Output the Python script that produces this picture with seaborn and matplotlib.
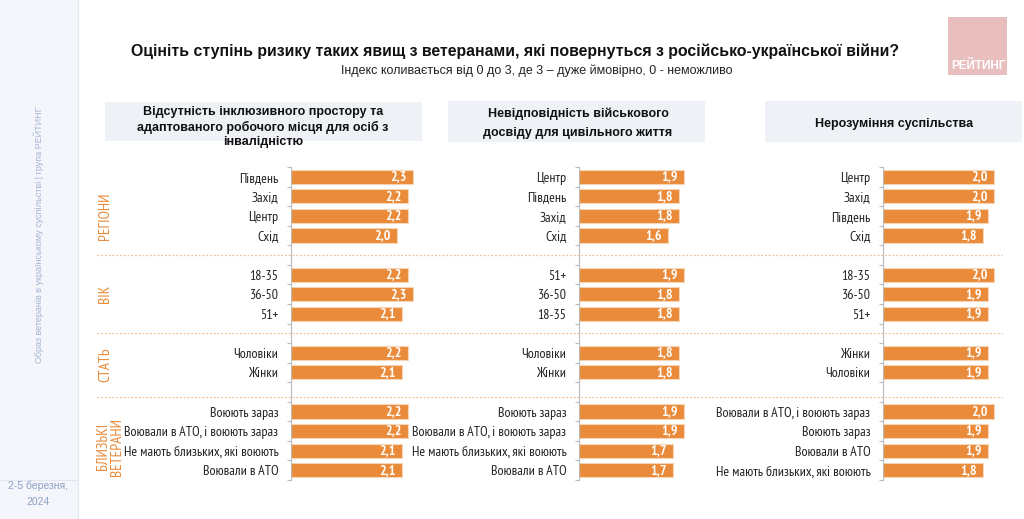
import numpy as np
import pandas as pd
import matplotlib
matplotlib.use("Agg")
import matplotlib.pyplot as plt
import matplotlib.transforms as mtransforms
from matplotlib import font_manager
from matplotlib.patches import Rectangle
import seaborn as sns

# Data
groups = ["РЕГІОНИ", "ВІК", "СТАТЬ", "БЛИЗЬКІ\nВЕТЕРАНИ"]

titles = [
    "Відсутність інклюзивного простору та\nадаптованого робочого місця для осіб з\nінвалідністю",
    "Невідповідність військового\nдосвіду для цивільного життя",
    "Нерозуміння суспільства",
]

labels_1 = [["Південь", "Захід", "Центр", "Схід"],
            ["18-35", "36-50", "51+"],
            ["Чоловіки", "Жінки"],
            ["Воюють зараз", "Воювали в АТО, і воюють зараз",
             "Не мають близьких, які воюють", "Воювали в АТО"]]
values_1 = [[2.3, 2.2, 2.2, 2.0], [2.2, 2.3, 2.1], [2.2, 2.1], [2.2, 2.2, 2.1, 2.1]]

labels_2 = [["Центр", "Південь", "Захід", "Схід"],
            ["51+", "36-50", "18-35"],
            ["Чоловіки", "Жінки"],
            ["Воюють зараз", "Воювали в АТО, і воюють зараз",
             "Не мають близьких, які воюють", "Воювали в АТО"]]
values_2 = [[1.9, 1.8, 1.8, 1.6], [1.9, 1.8, 1.8], [1.8, 1.8], [1.9, 1.9, 1.7, 1.7]]

labels_3 = [["Центр", "Захід", "Південь", "Схід"],
            ["18-35", "36-50", "51+"],
            ["Жінки", "Чоловіки"],
            ["Воювали в АТО, і воюють зараз", "Воюють зараз",
             "Воювали в АТО", "Не мають близьких, які воюють"]]
values_3 = [[2.0, 2.0, 1.9, 1.8], [2.0, 1.9, 1.9], [1.9, 1.9], [2.0, 1.9, 1.9, 1.8]]

title = "Оцініть ступінь ризику таких явищ з ветеранами, які повернуться з російсько-української війни?"
subtitle = "Індекс коливається від 0 до 3, де 3 – дуже ймовірно, 0 - неможливо"

# fonts: pick a condensed family with cyrillic if there is one
names = {f.name for f in font_manager.fontManager.ttflist}
narrow = "Liberation Sans"
for cand in ["Arial Narrow", "Liberation Sans Narrow", "PT Sans Narrow", "Roboto Condensed",
             "Fira Sans Condensed", "IBM Plex Sans Condensed", "Open Sans Condensed"]:
    if cand in names:
        narrow = cand
        break
NARROW = [narrow, "DejaVu Sans"]
REGULAR = ["Liberation Sans", "DejaVu Sans"]

ORANGE = "#E98B3A"
W, H = 1024, 519

sns.set_style("white")
plt.rcParams["font.family"] = REGULAR

fig = plt.figure(figsize=(W / 100, H / 100), dpi=100)


def fx(px):
    return px / W


def fy(py):
    return 1 - py / H


# sidebar
fig.patches.append(Rectangle((0, 0), fx(78), 1, transform=fig.transFigure,
                             facecolor="#F4F6FB", edgecolor="none", zorder=0))
fig.add_artist(plt.Line2D([fx(78), fx(78)], [0, 1], color="#E1E6EF", lw=0.8))
fig.add_artist(plt.Line2D([0, fx(78)], [fy(480), fy(480)], color="#E1E6EF", lw=0.8))
fig.text(fx(39), fy(235), "Образ ветеранів в українському суспільстві | група РЕЙТИНГ",
         rotation=90, ha="center", va="center", fontsize=6.5, color="#A4B3D3")
fig.text(fx(38), fy(494), "2-5 березня,\n2024", ha="center", va="center",
         fontsize=7.5, color="#8C9FC4", linespacing=1.8)

# title
fig.text(fx(515), fy(51), title, ha="center", va="center", fontsize=11.4,
         fontweight="bold", color="#111111")
fig.text(fx(537), fy(71), subtitle, ha="center", va="center", fontsize=9,
         color="#222222")

# logo
fig.patches.append(Rectangle((fx(948), fy(75)), fx(59), 58 / H, transform=fig.transFigure,
                             facecolor="#E9BEBE", edgecolor="none"))
fig.text(fx(978), fy(66), "РЕЙТИНГ", ha="center", va="center", fontsize=8.5,
         fontweight="bold", color="white")

# panel header boxes
boxes = [(105, 102, 422, 141), (448, 101, 705, 142), (765, 101, 1022, 142)]
text_pos = [(263, 127, 1.3), (578, 123, 1.75), (894, 124, 1.2)]
for (x0, y0, x1, y1), (tx, ty, ls), t in zip(boxes, text_pos, titles):
    fig.patches.append(Rectangle((fx(x0), fy(y1)), fx(x1 - x0), (y1 - y0) / H,
                                 transform=fig.transFigure, facecolor="#EEF2F6",
                                 edgecolor="none"))
    fig.text(fx(tx), fy(ty), t, ha="center", va="center", fontsize=9,
             fontweight="bold", color="#111111", linespacing=ls)

# one axes per panel, gap rows between groups
panels = [(labels_1, values_1, 291, 53.0), (labels_2, values_2, 579, 55.5),
          (labels_3, values_3, 883, 55.5)]
ax_top, ax_bot = 167, 480
axes = []
for labels, values, left, ppu in panels:
    rows = []
    pos = 0
    for g, (labs, vals) in enumerate(zip(labels, values)):
        for lab, v in zip(labs, vals):
            rows.append({"pos": pos, "label": lab, "value": v, "group": groups[g]})
            pos += 1
        pos += 1
    df = pd.DataFrame(rows)

    xmax = 2.5
    ax = fig.add_axes([fx(left), fy(ax_bot), fx(xmax * ppu), (ax_bot - ax_top) / H])
    sns.barplot(data=df, x="value", y="pos", orient="h", native_scale=True,
                color=ORANGE, saturation=1, width=0.72, errorbar=None,
                edgecolor="#F7D5B6", linewidth=0.8, ax=ax)
    ax.set_xlim(0, xmax)
    ax.set_ylim(15.5, -0.5)
    ax.set_xlabel("")
    ax.set_ylabel("")
    ax.set_xticks([])
    ax.set_yticks(df["pos"], df["label"])
    ax.set_yticks(np.arange(-0.5, 16, 1), minor=True)
    ax.tick_params(axis="y", which="major", length=0, pad=9, labelsize=10,
                   labelcolor="#222222")
    ax.tick_params(axis="y", which="minor", length=3, width=0.8, color="#BBBBBB",
                   direction="out", left=True)
    for lab in ax.get_yticklabels():
        lab.set_family(NARROW)
    for s in ["top", "right", "bottom"]:
        ax.spines[s].set_visible(False)
    ax.spines["left"].set_color("#BBBBBB")
    ax.spines["left"].set_linewidth(0.8)
    ax.patch.set_alpha(0)

    for p in ax.patches:
        w = p.get_width()
        ax.annotate(f"{w:.1f}".replace(".", ","), (w, p.get_y() + p.get_height() / 2),
                    xytext=(-4.5, 0), textcoords="offset points", ha="right", va="center",
                    color="white", fontsize=10, fontweight="bold", family=NARROW)
    axes.append(ax)

# separators and group names
ax = axes[0]
blend = mtransforms.blended_transform_factory(fig.transFigure, ax.transData)
for y in [4, 8, 11.25]:
    ax.plot([fx(97), fx(1002)], [y, y], transform=blend, clip_on=False,
            color="#F3BE92", lw=0.9, ls=(0, (1.5, 1.5)))
for g, y, x in zip(groups, [2.0, 6.0, 9.6, 13.8], [105, 105, 105, 110]):
    ax.text(fx(x), y, g, transform=blend, rotation=90, ha="center", va="center",
            color=ORANGE, fontsize=11, family=NARROW, linespacing=1.0)

fig.savefig("out.png", dpi=100)
